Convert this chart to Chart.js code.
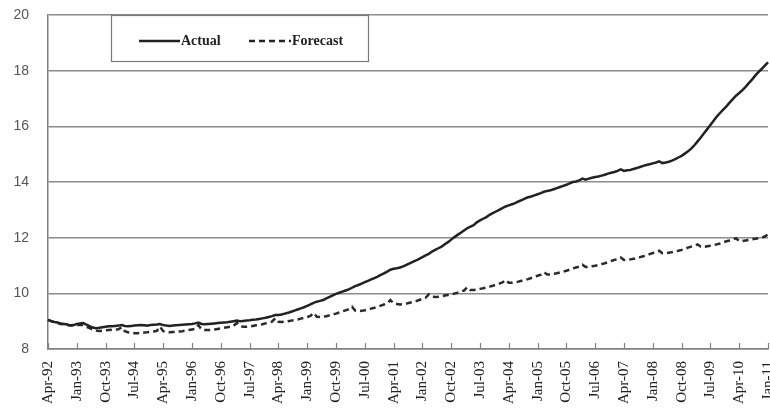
<!DOCTYPE html>
<html>
<head>
<meta charset="utf-8">
<title>Actual vs Forecast</title>
<script src="https://cdn.jsdelivr.net/npm/chart.js@4.4.1/dist/chart.umd.min.js"></script>
<style>
  html, body { margin: 0; padding: 0; background: #fff; }
  #wrap { width: 770px; height: 410px; position: relative; }
</style>
</head>
<body>
<div id="wrap"><canvas id="mainChart" width="770" height="410"></canvas></div>
<script>
// ====================================================================
// DATA (monthly, Apr-92 .. Jan-11)
// ====================================================================

const monthNames = ['Jan', 'Feb', 'Mar', 'Apr', 'May', 'Jun', 'Jul', 'Aug', 'Sep', 'Oct', 'Nov', 'Dec'];
const startYear = 1992;
const startMonth = 3; // Apr
const labelEvery = 9; // one tick label every 9 months

const yTicks = [8, 10, 12, 14, 16, 18, 20];

// one row per Apr..Mar year
const actualValues = [
  9.05, 9.0, 8.97, 8.95, 8.92, 8.9, 8.88, 8.85, 8.86, 8.9, 8.92, 8.93,
  8.88, 8.82, 8.77, 8.75, 8.76, 8.78, 8.8, 8.82, 8.82, 8.83, 8.84, 8.86,
  8.83, 8.82, 8.83, 8.84, 8.85, 8.86, 8.85, 8.84, 8.86, 8.87, 8.88, 8.9,
  8.86, 8.84, 8.83, 8.84, 8.85, 8.86, 8.87, 8.88, 8.89, 8.9, 8.92, 8.95,
  8.9, 8.89, 8.9, 8.91, 8.92, 8.93, 8.94, 8.95, 8.96, 8.98, 9.0, 9.02,
  9.0, 9.01, 9.02, 9.03, 9.05, 9.06, 9.08, 9.1, 9.12, 9.15, 9.18, 9.22,
  9.22, 9.24, 9.27, 9.3, 9.34, 9.38, 9.42, 9.46, 9.5, 9.55, 9.6, 9.66,
  9.7, 9.73, 9.76, 9.82, 9.87, 9.93, 9.98, 10.02, 10.06, 10.1, 10.14, 10.2,
  10.26, 10.3, 10.35, 10.4, 10.45, 10.5, 10.55, 10.6, 10.66, 10.72, 10.78, 10.85,
  10.88, 10.9, 10.93, 10.97, 11.02, 11.08, 11.13, 11.18, 11.24, 11.3, 11.36, 11.42,
  11.5, 11.56, 11.62, 11.68, 11.76, 11.84, 11.93, 12.02, 12.1, 12.18, 12.26, 12.34,
  12.4, 12.45, 12.55, 12.62, 12.68, 12.74, 12.82, 12.88, 12.94, 13.0, 13.06, 13.12,
  13.16, 13.2, 13.24, 13.3, 13.35, 13.4, 13.45, 13.48, 13.52, 13.56, 13.6, 13.65,
  13.68, 13.7, 13.74, 13.78, 13.82, 13.86, 13.9, 13.95, 14.0, 14.02, 14.06, 14.12,
  14.08, 14.12, 14.15, 14.18, 14.2, 14.23, 14.26, 14.3, 14.33, 14.36, 14.4, 14.45,
  14.4, 14.42, 14.43, 14.47, 14.5, 14.54, 14.58, 14.61, 14.64, 14.67, 14.7, 14.74,
  14.68, 14.7, 14.73, 14.77, 14.82, 14.88, 14.94, 15.02, 15.1, 15.2, 15.32, 15.46,
  15.6, 15.75, 15.9, 16.05, 16.2, 16.35, 16.48, 16.6, 16.72, 16.85, 16.98, 17.1,
  17.2, 17.3, 17.42, 17.55, 17.68, 17.82, 17.95, 18.06, 18.18, 18.3
];

const forecastValues = [
  9.05, 9.0, 8.96, 8.93, 8.9, 8.88, 8.86, 8.84, 8.84, 8.86, 8.86, 8.86,
  8.8, 8.75, 8.7, 8.66, 8.65, 8.66, 8.67, 8.68, 8.69, 8.7, 8.71, 8.78,
  8.64, 8.6, 8.58, 8.57, 8.57, 8.58, 8.59, 8.6, 8.62, 8.63, 8.65, 8.8,
  8.64, 8.61, 8.6, 8.61, 8.62, 8.63, 8.64, 8.66, 8.68, 8.7, 8.72, 8.86,
  8.7, 8.68, 8.68, 8.69, 8.7, 8.72, 8.74, 8.76, 8.78, 8.8, 8.83, 8.94,
  8.82, 8.8, 8.8, 8.81, 8.83, 8.85, 8.87, 8.89, 8.92, 8.95, 8.98, 9.1,
  8.98, 8.97, 8.98, 9.0, 9.02, 9.04, 9.06, 9.09, 9.12, 9.15, 9.19, 9.3,
  9.16, 9.15, 9.16, 9.18, 9.21, 9.24, 9.27, 9.31, 9.35, 9.39, 9.43, 9.52,
  9.38, 9.36, 9.37, 9.39, 9.42, 9.45, 9.48, 9.52, 9.56, 9.6, 9.64, 9.76,
  9.64, 9.62, 9.6, 9.61, 9.63, 9.66, 9.69, 9.72, 9.76, 9.8, 9.84, 9.96,
  9.88, 9.87, 9.88, 9.9, 9.92, 9.94, 9.96, 9.99, 10.02, 10.06, 10.1, 10.22,
  10.12, 10.12, 10.14, 10.16, 10.18, 10.21, 10.24, 10.27, 10.31, 10.35, 10.39, 10.48,
  10.38, 10.38, 10.4, 10.42, 10.45, 10.48, 10.51, 10.55, 10.59, 10.63, 10.67, 10.76,
  10.68, 10.68, 10.7, 10.72, 10.75, 10.78, 10.81, 10.85, 10.89, 10.93, 10.96, 11.03,
  10.95, 10.95, 10.97, 10.99, 11.02, 11.05, 11.08, 11.12, 11.16, 11.2, 11.23, 11.29,
  11.2, 11.2, 11.22, 11.24, 11.27, 11.3, 11.33, 11.37, 11.41, 11.45, 11.48, 11.53,
  11.44, 11.44, 11.46, 11.48, 11.5, 11.53, 11.56, 11.6, 11.64, 11.68, 11.71, 11.76,
  11.67, 11.67, 11.69, 11.71, 11.73, 11.76, 11.79, 11.83, 11.87, 11.9, 11.93, 11.98,
  11.88, 11.88, 11.9, 11.92, 11.94, 11.96, 11.98, 12.0, 12.04, 12.12
];

const seriesNames = ['Actual', 'Forecast'];

// month labels like "Apr-92"
const monthLabels = [];
for (let i = 0; i < actualValues.length; i++) {
  const m = (startMonth + i) % 12;
  const y = startYear + Math.floor((startMonth + i) / 12);
  monthLabels.push(monthNames[m] + '-' + String(y % 100).padStart(2, '0'));
}

// ====================================================================
// PLUGINS
// ====================================================================

// inside tick marks on the x axis (Excel style)
const insideTicks = {
  id: 'insideTicks',
  afterDatasetsDraw(chart) {
    const x = chart.scales.x;
    const ctx = chart.ctx;
    ctx.save();
    ctx.strokeStyle = '#808080';
    ctx.lineWidth = 1.2;
    for (let i = 0; i < monthLabels.length; i += labelEvery) {
      const px = Math.round(x.getPixelForValue(i)) + 0.5;
      ctx.beginPath();
      ctx.moveTo(px, x.top - 6);
      ctx.lineTo(px, x.top);
      ctx.stroke();
    }
    ctx.restore();
  }
};

// boxed legend sitting against the top of the plot
const boxLegend = {
  id: 'boxLegend',
  afterDraw(chart) {
    const ctx = chart.ctx;
    const area = chart.chartArea;
    const left = 111, top = area.top, w = 257, h = 46;
    ctx.save();
    ctx.fillStyle = '#fff';
    ctx.fillRect(left, top, w, h);
    ctx.strokeStyle = '#7a7a7a';
    ctx.lineWidth = 1.2;
    ctx.strokeRect(left + 0.5, top + 0.5, w, h);

    const ly = top + 26;
    ctx.strokeStyle = '#222';
    ctx.lineWidth = 2.5;
    ctx.beginPath();
    ctx.moveTo(139, ly);
    ctx.lineTo(180, ly);
    ctx.stroke();

    ctx.setLineDash([6, 4]);
    ctx.beginPath();
    ctx.moveTo(249, ly);
    ctx.lineTo(291, ly);
    ctx.stroke();
    ctx.setLineDash([]);

    ctx.fillStyle = '#222';
    ctx.font = 'bold 14px "Liberation Serif", "Times New Roman", serif';
    ctx.textBaseline = 'middle';
    ctx.fillText(seriesNames[0], 181, ly);
    ctx.fillText(seriesNames[1], 292, ly);
    ctx.restore();
  }
};

// ====================================================================
// CHART
// ====================================================================

function createMainChart() {
  const canvas = document.getElementById('mainChart');
  if (!canvas) {
    console.warn('Canvas not found');
    return;
  }

  new Chart(canvas.getContext('2d'), {
    type: 'line',
    data: {
      labels: monthLabels,
      datasets: [
        {
          label: seriesNames[0],
          data: actualValues,
          borderColor: '#222',
          borderWidth: 2.5,
          pointRadius: 0,
          tension: 0
        },
        {
          label: seriesNames[1],
          data: forecastValues,
          borderColor: '#2a2a2a',
          borderWidth: 2.5,
          borderDash: [6, 4],
          pointRadius: 0,
          tension: 0
        }
      ]
    },
    options: {
      responsive: false,
      animation: false,
      layout: { padding: { top: 15, right: 2, left: 0, bottom: 0 } },
      plugins: {
        legend: { display: false },
        tooltip: { enabled: false }
      },
      scales: {
        x: {
          type: 'category',
          offset: false,
          grid: { drawOnChartArea: false, drawTicks: false },
          border: { display: true, color: '#808080', width: 1.5 },
          ticks: {
            autoSkip: false,
            maxRotation: 90,
            minRotation: 90,
            padding: 12,
            color: '#222',
            font: { family: '"Liberation Serif", "Times New Roman", serif', size: 15 },
            callback: (val, i) => (i % labelEvery === 0 ? monthLabels[i] : '')
          },
          afterFit: scale => {
            scale.height = 61;
            scale.paddingLeft = 0;
            scale.paddingRight = 0;
          }
        },
        y: {
          min: yTicks[0],
          max: yTicks[yTicks.length - 1],
          afterBuildTicks: scale => {
            scale.ticks = yTicks.map(v => ({ value: v }));
          },
          grid: { color: '#8c8c8c', lineWidth: 1.5, drawTicks: false },
          border: { display: true, color: '#808080', width: 1.5 },
          ticks: {
            padding: 19,
            color: '#555',
            font: { family: '"Liberation Sans", Arial, sans-serif', size: 14 }
          },
          afterFit: scale => {
            scale.width = 48;
            scale.paddingTop = 0;
            scale.paddingBottom = 0;
          }
        }
      }
    },
    plugins: [insideTicks, boxLegend]
  });
}

document.addEventListener('DOMContentLoaded', createMainChart);
</script>
</body>
</html>
